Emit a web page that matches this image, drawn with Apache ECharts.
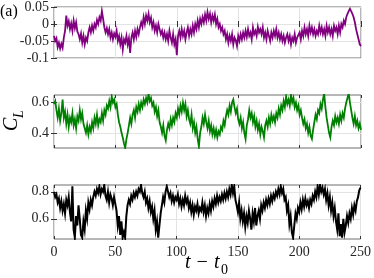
<!DOCTYPE html>
<html><head><meta charset="utf-8">
<script src="https://cdn.jsdelivr.net/npm/echarts@6/dist/echarts.min.js"></script>
<style>html,body{margin:0;padding:0;background:#fff}#c{width:374px;height:278px}</style>
</head><body><div id="c"></div>
<script>
// time axis: one sample per unit of t - t0, from 0 to 250
const tStart = 0;
const tStep = 1;
const xTicks = [0, 50, 100, 150, 200, 250];

const purple = [
-0.035,-0.05,-0.042,-0.068,-0.055,-0.072,-0.058,-0.07,-0.04,-0.02,
0.025,-0.005,0.008,-0.015,0.002,-0.02,0.01,-0.012,0.005,-0.022,
-0.03,-0.045,-0.028,-0.055,-0.035,-0.06,-0.04,-0.05,-0.025,-0.01,
-0.025,-0.005,-0.02,0.0,-0.01,0.012,0.0,0.02,0.01,0.038,
0.015,-0.01,-0.025,-0.012,-0.03,-0.015,-0.04,-0.025,-0.045,-0.028,
-0.038,-0.02,-0.05,-0.035,-0.06,-0.04,-0.075,-0.045,-0.055,-0.035,
-0.06,-0.042,-0.085,-0.04,-0.025,-0.045,-0.02,-0.038,-0.015,-0.03,
-0.01,0.005,-0.008,0.02,0.0,0.025,0.01,0.03,0.005,0.018,
-0.01,0.005,-0.02,-0.005,-0.025,0.0,-0.015,-0.03,-0.02,-0.04,
-0.025,-0.045,-0.03,-0.05,-0.02,-0.04,-0.055,-0.03,-0.06,-0.045,
-0.092,-0.035,-0.02,-0.04,-0.015,-0.035,-0.02,-0.045,-0.025,-0.01,
-0.035,-0.015,-0.03,-0.005,-0.025,0.0,-0.015,0.01,-0.01,0.015,
0.0,0.02,0.005,0.028,0.01,0.035,0.015,0.03,0.005,0.025,
0.01,0.028,0.0,0.015,-0.01,0.0,-0.02,-0.01,-0.03,-0.02,
-0.045,-0.03,-0.055,-0.035,-0.05,-0.03,-0.06,-0.04,-0.048,-0.065,
-0.035,-0.05,-0.03,-0.045,-0.025,-0.04,-0.02,-0.038,-0.015,-0.035,
-0.025,-0.045,-0.01,-0.03,-0.02,-0.035,-0.008,-0.025,-0.015,-0.03,
-0.01,-0.04,-0.025,-0.045,-0.02,-0.035,-0.05,-0.025,-0.04,-0.02,
-0.035,-0.015,-0.04,-0.025,-0.045,-0.03,-0.05,-0.035,-0.055,-0.04,
-0.03,-0.05,-0.035,-0.06,-0.04,-0.05,-0.03,-0.055,-0.04,-0.045,
-0.025,-0.045,-0.02,-0.035,-0.01,-0.03,-0.015,-0.035,-0.005,-0.025,
-0.01,-0.03,-0.015,-0.035,-0.02,-0.03,-0.005,-0.025,-0.01,-0.03,
-0.015,-0.035,-0.005,-0.025,-0.01,-0.03,-0.015,-0.035,-0.005,-0.02,
-0.01,-0.03,-0.005,-0.025,0.0,-0.01,0.01,0.0,0.02,0.03,
0.038,0.045,0.048,0.03,0.02,0.005,-0.015,-0.03,-0.045,-0.06,-0.065
];

const green = [
0.59,0.61,0.55,0.5,0.56,0.48,0.53,0.62,0.5,0.54,
0.46,0.52,0.44,0.5,0.47,0.53,0.45,0.49,0.43,0.51,
0.48,0.55,0.49,0.53,0.46,0.43,0.4,0.45,0.39,0.44,
0.41,0.47,0.43,0.5,0.46,0.52,0.45,0.49,0.47,0.53,
0.48,0.55,0.52,0.58,0.56,0.61,0.57,0.64,0.6,0.62,
0.57,0.59,0.52,0.47,0.44,0.4,0.37,0.33,0.3,0.36,
0.4,0.45,0.5,0.46,0.52,0.55,0.5,0.57,0.54,0.59,
0.55,0.6,0.57,0.62,0.59,0.63,0.6,0.66,0.61,0.63,
0.58,0.6,0.54,0.57,0.51,0.55,0.47,0.44,0.4,0.45,
0.38,0.35,0.42,0.46,0.43,0.49,0.45,0.5,0.47,0.53,
0.5,0.56,0.52,0.58,0.54,0.6,0.55,0.59,0.51,0.55,
0.49,0.46,0.52,0.43,0.47,0.4,0.44,0.36,0.31,0.4,
0.44,0.5,0.46,0.52,0.47,0.43,0.48,0.41,0.45,0.39,
0.43,0.38,0.42,0.37,0.41,0.39,0.44,0.42,0.48,0.45,
0.51,0.55,0.52,0.58,0.54,0.6,0.62,0.57,0.53,0.56,
0.49,0.46,0.5,0.43,0.47,0.4,0.36,0.45,0.49,0.55,
0.5,0.53,0.47,0.51,0.44,0.48,0.42,0.46,0.39,0.44,
0.41,0.37,0.45,0.48,0.44,0.5,0.46,0.52,0.48,0.51,
0.47,0.53,0.5,0.56,0.52,0.58,0.55,0.61,0.57,0.64,
0.59,0.62,0.58,0.65,0.6,0.63,0.57,0.6,0.55,0.58,
0.52,0.55,0.5,0.46,0.49,0.43,0.46,0.4,0.44,0.38,
0.36,0.42,0.47,0.52,0.49,0.55,0.53,0.59,0.56,0.62,
0.66,0.57,0.5,0.45,0.4,0.37,0.44,0.48,0.45,0.51,
0.47,0.5,0.46,0.52,0.48,0.53,0.5,0.56,0.6,0.63,
0.66,0.6,0.55,0.5,0.46,0.51,0.45,0.48,0.43,0.46,0.42
];

const black = [
0.8,0.76,0.78,0.72,0.75,0.68,0.73,0.66,0.71,0.64,
0.74,0.7,0.76,0.65,0.58,0.84,0.52,0.46,0.62,0.55,
0.7,0.6,0.48,0.46,0.58,0.52,0.66,0.6,0.72,0.67,
0.74,0.7,0.76,0.8,0.77,0.82,0.79,0.84,0.78,0.82,
0.8,0.85,0.77,0.74,0.8,0.72,0.78,0.75,0.7,0.76,
0.71,0.66,0.55,0.62,0.48,0.58,0.46,0.5,0.46,0.62,
0.7,0.74,0.71,0.77,0.74,0.79,0.76,0.8,0.77,0.82,
0.8,0.85,0.79,0.76,0.8,0.72,0.75,0.68,0.73,0.65,
0.69,0.6,0.66,0.52,0.58,0.46,0.55,0.64,0.7,0.76,
0.72,0.8,0.84,0.85,0.76,0.79,0.73,0.77,0.72,0.76,
0.74,0.78,0.71,0.75,0.69,0.74,0.7,0.77,0.72,0.75,
0.68,0.72,0.65,0.7,0.63,0.69,0.66,0.71,0.64,0.68,
0.66,0.72,0.65,0.7,0.62,0.68,0.64,0.71,0.66,0.73,
0.69,0.75,0.71,0.77,0.72,0.76,0.73,0.78,0.74,0.79,
0.75,0.8,0.76,0.82,0.78,0.85,0.79,0.84,0.74,0.7,
0.65,0.72,0.6,0.66,0.58,0.64,0.54,0.62,0.57,0.66,
0.6,0.52,0.64,0.58,0.68,0.55,0.62,0.66,0.6,0.7,
0.66,0.72,0.68,0.74,0.7,0.75,0.71,0.77,0.73,0.78,
0.75,0.8,0.77,0.82,0.78,0.84,0.79,0.82,0.74,0.76,
0.66,0.7,0.56,0.62,0.5,0.46,0.55,0.64,0.6,0.68,
0.65,0.72,0.67,0.74,0.69,0.75,0.7,0.73,0.68,0.74,
0.71,0.77,0.74,0.8,0.76,0.84,0.78,0.85,0.8,0.83,
0.78,0.82,0.74,0.79,0.7,0.76,0.66,0.72,0.62,0.68,
0.58,0.52,0.64,0.47,0.56,0.46,0.6,0.5,0.55,0.62,
0.57,0.64,0.6,0.68,0.63,0.7,0.66,0.73,0.76,0.81,0.83
];

const yTicksTop = [-0.1, -0.05, 0, 0.05];
const yTicksMid = [0.4, 0.6];
const yTicksBot = [0.6, 0.8];

const FONT = 'Liberation Serif';
const chart = echarts.init(document.getElementById('c'), null, {renderer: 'canvas'});

const grids = [
  {left: 54, right: 13, top: 5, height: 53},
  {left: 54, right: 13, top: 95, height: 53},
  {left: 54, right: 13, top: 185, height: 54}
];
const yRanges = [
  {min: -0.1, max: 0.05, ticks: yTicksTop},
  {min: 0.3, max: 0.65, ticks: yTicksMid},
  {min: 0.45, max: 0.85, ticks: yTicksBot}
];
const seriesData = [purple, green, black];
const colors = ['#800080', '#008000', '#000000'];
const widths = [1.8, 1.8, 2];

const xAxes = [], yAxes = [], series = [];
grids.forEach((g, i) => {
  g.show = true; g.borderColor = '#6e6e6e'; g.borderWidth = 1; g.backgroundColor = '#fff';
  xAxes.push({
    type: 'value', gridIndex: i, min: 0, max: 250, interval: 50, position: 'bottom',
    axisLine: {show: false},
    axisTick: {show: true, inside: true, length: 3, lineStyle: {color: '#333'}},
    axisLabel: {show: i === 2, fontFamily: FONT, fontSize: 14, color: '#262626', margin: 6},
    splitLine: {show: true, lineStyle: {color: '#e3e3e3', width: 1}}
  });
  xAxes.push({
    type: 'value', gridIndex: i, min: 0, max: 250, interval: 50, position: 'top',
    axisLine: {show: false},
    axisTick: {show: true, inside: true, length: 3, lineStyle: {color: '#333'}},
    axisLabel: {show: false}, splitLine: {show: false}
  });
  const r = yRanges[i];
  yAxes.push({
    type: 'value', gridIndex: i, min: r.min, max: r.max, position: 'left',
    axisLine: {show: false},
    axisTick: {show: true, inside: true, length: 3, lineStyle: {color: '#333'}, customValues: r.ticks},
    axisLabel: {show: true, fontFamily: FONT, fontSize: 14, color: '#262626', margin: 5, customValues: r.ticks,
      formatter: v => String(+v.toFixed(3))},
    splitLine: {show: true, lineStyle: {color: '#e3e3e3', width: 1}}
  });
  yAxes.push({
    type: 'value', gridIndex: i, min: r.min, max: r.max, position: 'right',
    axisLine: {show: false},
    axisTick: {show: true, inside: true, length: 3, lineStyle: {color: '#333'}, customValues: r.ticks},
    axisLabel: {show: false}, splitLine: {show: false}
  });
  series.push({
    type: 'line', xAxisIndex: i * 2, yAxisIndex: i * 2, showSymbol: false, symbol: 'none',
    clip: true, animation: false,
    lineStyle: {color: colors[i], width: widths[i], join: 'miter'},
    data: seriesData[i].map((v, k) => [tStart + k * tStep, v])
  });
});

chart.setOption({
  animation: false,
  grid: grids,
  xAxis: xAxes,
  yAxis: yAxes,
  series: series,
  graphic: [
    {type: 'text', left: 0, top: 4, style: {text: '(a)', fontFamily: FONT, fontSize: 16, fill: '#000'}},
    {type: 'text', x: 22, y: 131, rotation: Math.PI / 2, style: {text: 'C', fontFamily: FONT, fontStyle: 'italic', fontSize: 20, fill: '#000', textAlign: 'left', textVerticalAlign: 'bottom'}},
    {type: 'text', x: 26, y: 118, rotation: Math.PI / 2, style: {text: 'L', fontFamily: FONT, fontStyle: 'italic', fontSize: 14, fill: '#000', textAlign: 'left', textVerticalAlign: 'bottom'}},
    {type: 'text', x: 185, y: 273, style: {text: 't \u2212 t', fontFamily: FONT, fontStyle: 'italic', fontSize: 20, fill: '#000', textVerticalAlign: 'bottom'}},
    {type: 'text', x: 221, y: 277, style: {text: '0', fontFamily: FONT, fontSize: 14, fill: '#000', textVerticalAlign: 'bottom'}}
  ]
});
</script></body></html>
